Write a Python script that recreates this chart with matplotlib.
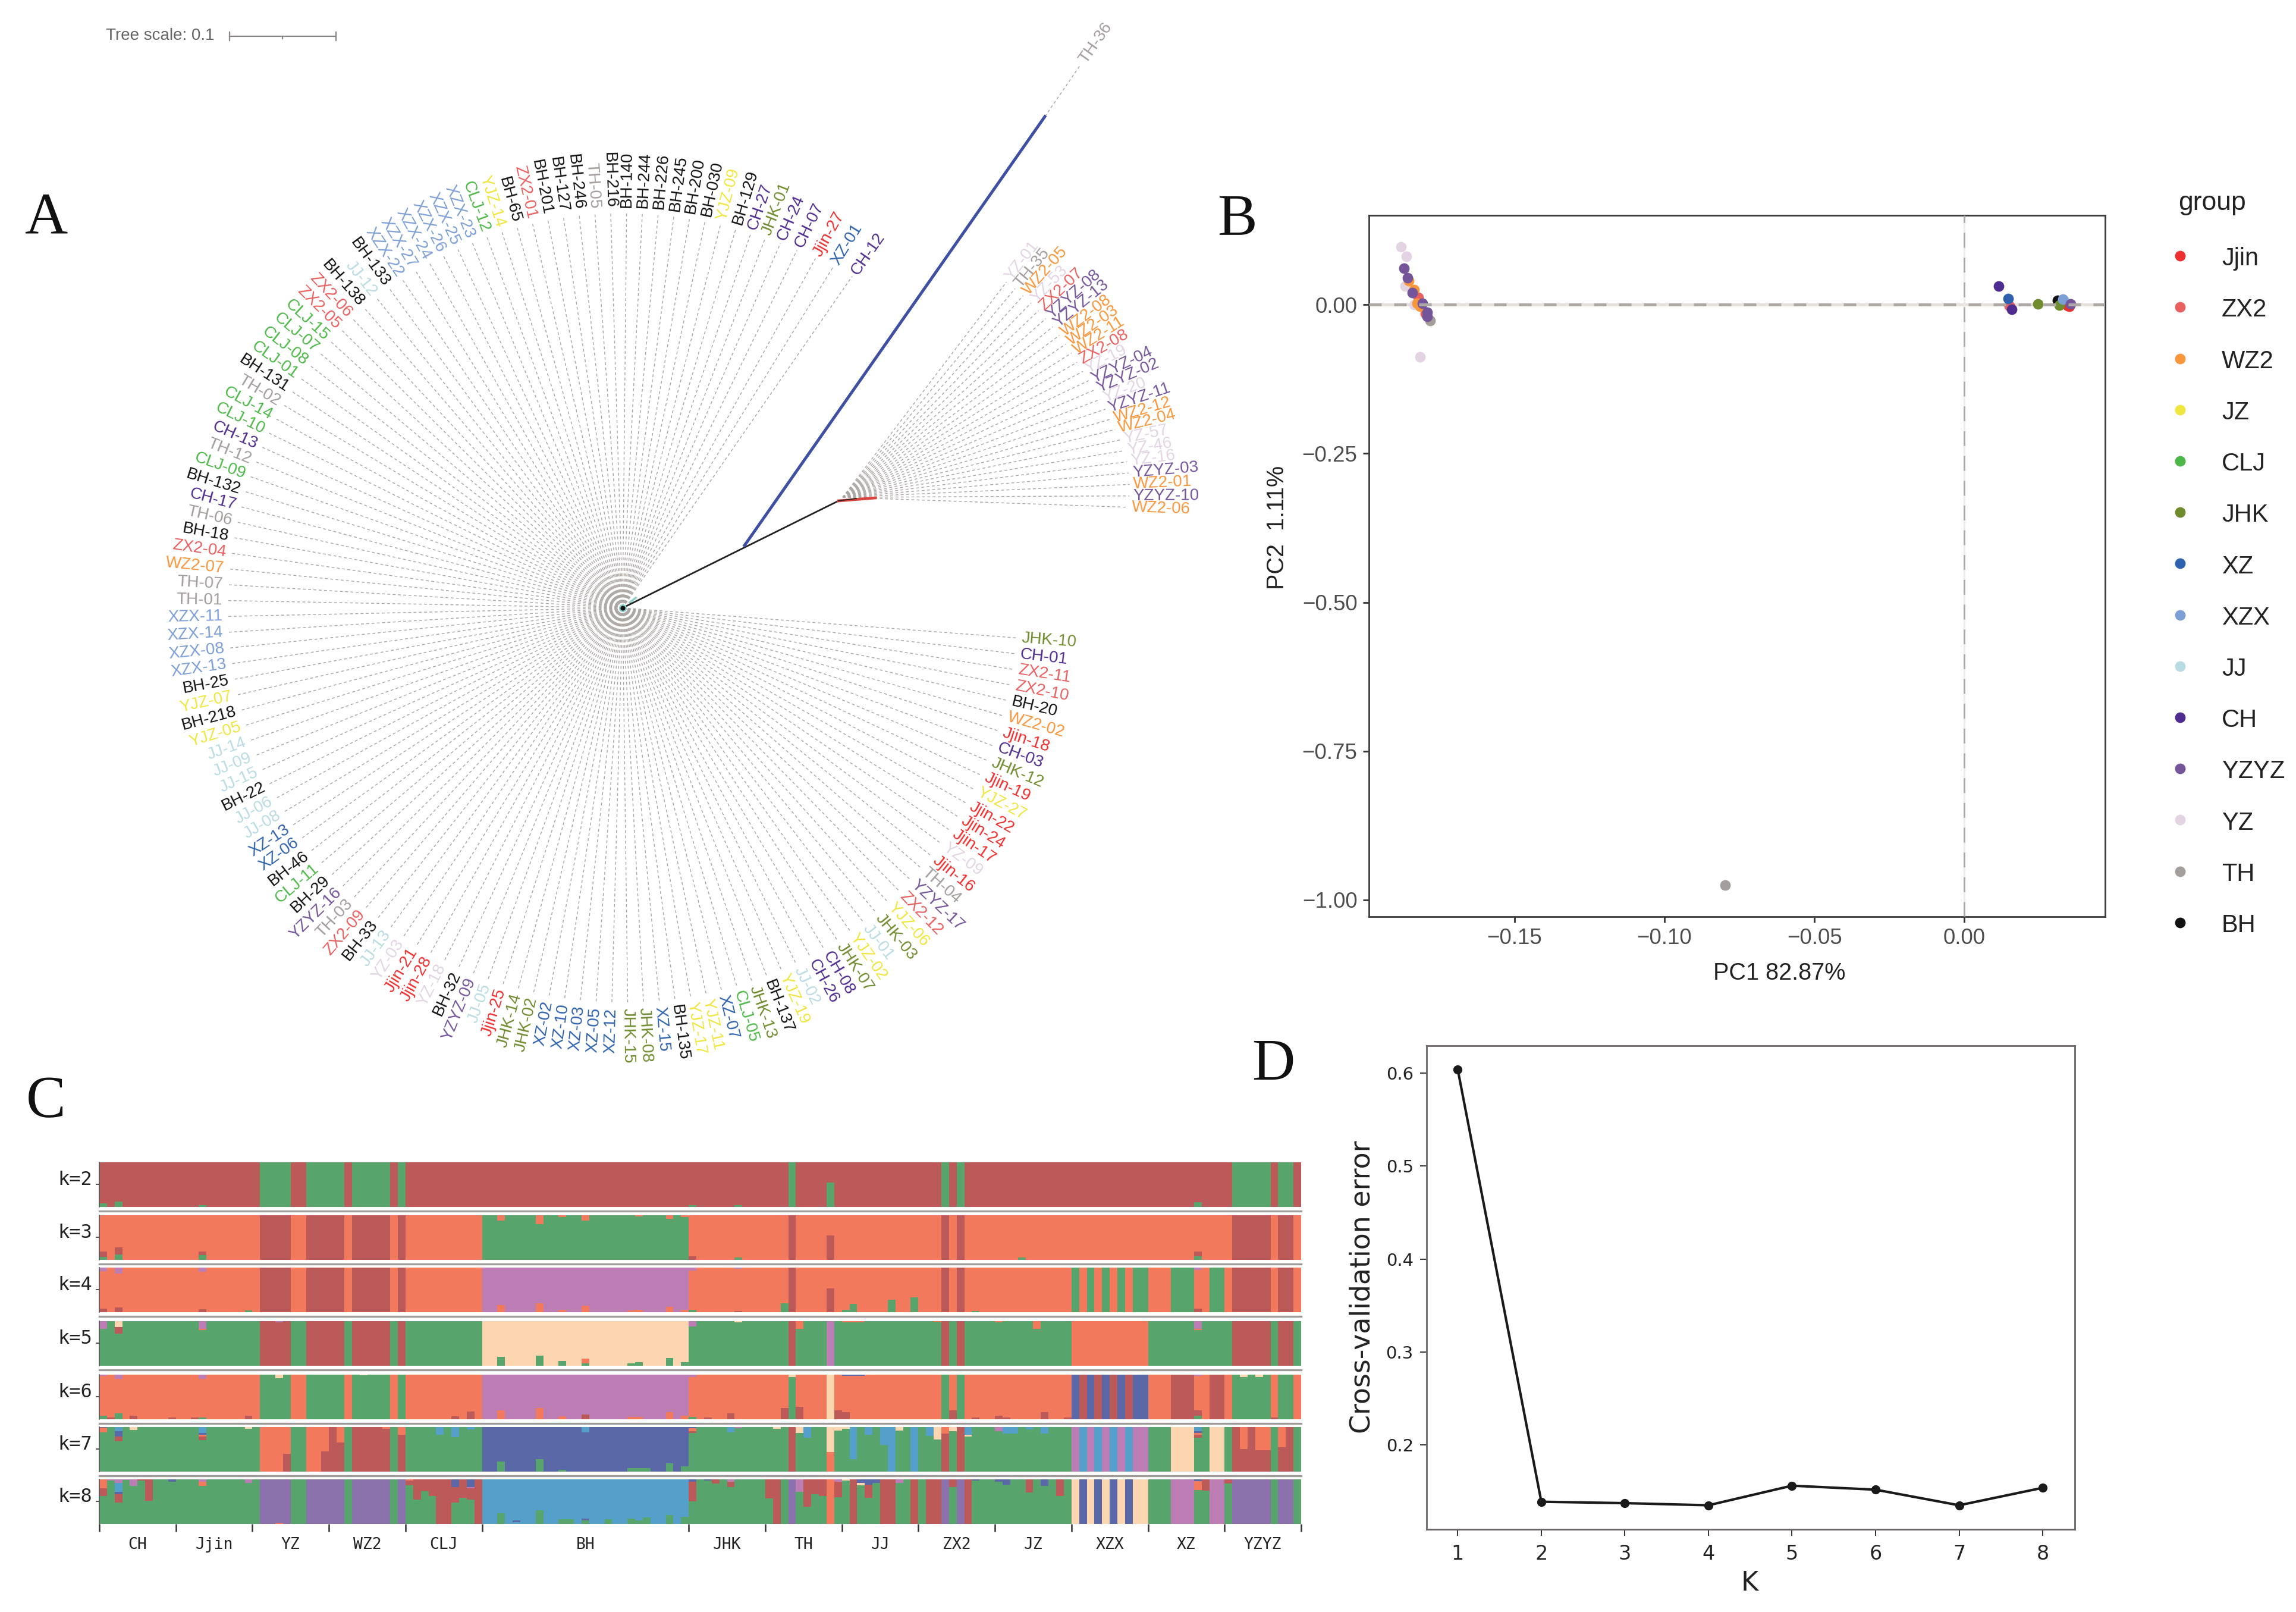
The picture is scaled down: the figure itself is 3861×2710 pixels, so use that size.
# -*- coding: utf-8 -*-
import numpy as np
import matplotlib
matplotlib.use('Agg')
from matplotlib import pyplot as plt

W, H = 3862, 2710
plt.rcParams['font.family'] = ['Liberation Sans', 'DejaVu Sans']

# 分组颜色
GROUPS = ['Jjin', 'ZX2', 'WZ2', 'JZ', 'CLJ', 'JHK', 'XZ', 'XZX', 'JJ', 'CH', 'YZYZ', 'YZ', 'TH', 'BH']
GROUP_COLORS = ['#EE2F2F', '#E8605F', '#F8963C', '#EFE63F', '#4DB848', '#6F8C2E', '#2F62AE',
                '#7C9FD6', '#B9DCE2', '#4F2C8F', '#74559A', '#E3D4E4', '#A39D9C', '#111111']

# A: tree tips
FAN1_TIPS = ['CH-12', 'XZ-01', 'Jjin-27', 'CH-07', 'CH-24', 'JHK-01', 'CH-27', 'BH-129', 'YJZ-09', 'BH-030',
             'BH-200', 'BH-245', 'BH-226', 'BH-244', 'BH-140', 'BH-216', 'TH-05', 'BH-246', 'BH-127', 'BH-201',
             'ZX2-01', 'BH-65', 'YJZ-14', 'CLJ-12', 'XZX-23', 'XZX-25', 'XZX-26', 'XZX-24', 'XZX-27', 'XZX-22',
             'BH-133', 'JJ-12', 'BH-138', 'ZX2-06', 'ZX2-05', 'CLJ-15', 'CLJ-07', 'CLJ-08', 'CLJ-01', 'BH-131',
             'TH-02', 'CLJ-14', 'CLJ-10', 'CH-13', 'TH-12', 'CLJ-09', 'BH-132', 'CH-17', 'TH-06', 'BH-18',
             'ZX2-04', 'WZ2-07', 'TH-07', 'TH-01', 'XZX-11', 'XZX-14', 'XZX-08', 'XZX-13', 'BH-25', 'YJZ-07',
             'BH-218', 'YJZ-05', 'JJ-14', 'JJ-09', 'JJ-15', 'BH-22', 'JJ-06', 'JJ-08', 'XZ-13', 'XZ-06',
             'BH-46', 'CLJ-11', 'BH-29', 'YZYZ-16', 'TH-03', 'ZX2-09', 'BH-33', 'JJ-13', 'YZ-03', 'Jjin-21',
             'Jjin-28', 'YZ-18', 'BH-32', 'YZYZ-09', 'JJ-05', 'Jjin-25', 'JHK-14', 'JHK-02', 'XZ-02', 'XZ-10',
             'XZ-03', 'XZ-05', 'XZ-12', 'JHK-15', 'JHK-08', 'XZ-15', 'BH-135', 'YJZ-17', 'YJZ-11', 'XZ-07',
             'CLJ-05', 'JHK-13', 'BH-137', 'YJZ-19', 'JJ-02', 'CH-26', 'CH-08', 'JHK-07', 'YJZ-02', 'JJ-01',
             'JHK-03', 'YJZ-06', 'ZX2-12', 'YZYZ-17', 'TH-04', 'Jjin-16', 'YZ-09', 'Jjin-17', 'Jjin-24', 'Jjin-22',
             'YJZ-27', 'Jjin-19', 'JHK-12', 'CH-03', 'Jjin-18', 'WZ2-02', 'BH-20', 'ZX2-10', 'ZX2-11', 'CH-01',
             'JHK-10']
# the first tips of the fan are spaced wider and reach further than the rest
FAN1_HEAD_ANGLES = [55.3, 58.3, 61.1, 64.0, 66.6, 68.9, 71.1]
FAN1_HEAD_LENGTHS = [678, 674, 671, 669, 668, 667, 667]
FAN1_LENGTH = 667
FAN2_TIPS = ['WZ2-06', 'YZYZ-10', 'WZ2-01', 'YZYZ-03', 'YZ-16', 'YZ-46', 'YZ-57', 'WZ2-04', 'WZ2-12', 'YZYZ-11',
             'YZ-20', 'YZYZ-02', 'YZYZ-04', 'YZ-19', 'ZX2-08', 'WZ2-11', 'WZ2-03', 'WZ2-08', 'YZYZ-13', 'YZYZ-08',
             'ZX2-07', 'YZ-53', 'WZ2-05', 'TH-35', 'YZ-01']
FAN2_LENGTHS = [480, 482, 483, 483, 482, 480, 477, 472, 470, 466, 463, 460, 458,
                456, 455, 455, 455, 455, 455, 455, 455, 455, 455, 455, 455]

# B: PCA, (PC1, PC2) for each group
PC1 = {
    'BH': [0.0311, 0.0315, 0.0320],
    'JZ': [0.0330, 0.0325],
    'CLJ': [0.0325, 0.0335],
    'JJ': [0.0335, 0.0330],
    'Jjin': [0.0351, 0.0345, 0.0150],
    'ZX2': [0.0150, -0.1821, -0.1798],
    'JHK': [0.0245, 0.0318],
    'CH': [0.0115, 0.0158],
    'XZ': [0.0146],
    'XZX': [0.0329],
    'YZ': [-0.1878, -0.1861, -0.1865, -0.1815, -0.1835],
    'WZ2': [-0.1854, -0.1835, -0.1825, -0.1815],
    'TH': [-0.1782, -0.0797],
    'YZYZ': [-0.1868, -0.1857, -0.1841, -0.1808, -0.1792, -0.1792, 0.0355],
}
PC2 = {
    'BH': [0.0075, 0.0060, 0.0040],
    'JZ': [0.0040, 0.0020],
    'CLJ': [0.0010, 0.0030],
    'JJ': [0.0060, 0.0040],
    'Jjin': [-0.0030, -0.0020, -0.0015],
    'ZX2': [-0.0015, 0.0120, -0.0150],
    'JHK': [0.0015, -0.0012],
    'CH': [0.0310, -0.0080],
    'XZ': [0.0102],
    'XZX': [0.0090],
    'YZ': [0.0975, 0.0810, 0.0310, -0.0875, 0.0000],
    'WZ2': [0.0400, 0.0250, 0.0020, -0.0030],
    'TH': [-0.0265, -0.9750],
    'YZYZ': [0.0610, 0.0450, 0.0200, 0.0020, -0.0125, -0.0195, 0.0015],
}
PCA_ORDER = ['BH', 'JZ', 'CLJ', 'JJ', 'Jjin', 'ZX2', 'JHK', 'CH', 'XZ', 'XZX', 'YZ', 'WZ2', 'TH', 'YZYZ']

# C: admixture, one row per k. base clusters as runs, patches as (bar, [(cluster, fraction), ...])
CLUSTER_COLORS = {'r': '#BC5A5A', 'g': '#57A56C', 'o': '#F2795B', 'p': '#BC7DB4',
                  'c': '#FCD6B0', 'b': '#5A68A8', 'l': '#55A0CB', 'v': '#8B72AC'}
GROUP_NAMES = ['CH', 'Jjin', 'YZ', 'WZ2', 'CLJ', 'BH', 'JHK', 'TH', 'JJ', 'ZX2', 'JZ', 'XZX', 'XZ', 'YZYZ']
GROUP_SIZES = [10, 10, 10, 10, 10, 27, 10, 10, 10, 10, 10, 10, 10, 10]

RUNS_K2 = [('r', 21), ('g', 4), ('r', 2), ('g', 5), ('r', 1), ('g', 5), ('r', 1), ('g', 1), ('r', 50), ('g', 1),
           ('r', 19), ('g', 1), ('r', 1), ('g', 1), ('r', 35), ('g', 5), ('r', 1), ('g', 2), ('r', 1)]
BOTTOM_K2 = [(0, [('g', .08)]), (2, [('g', .12)]), (13, [('g', .04)]), (77, [('g', .04)]), (83, [('g', .03)]),
             (95, [('g', .55)]), (143, [('g', .1)])]
TOP_K2 = []

RUNS_K3 = [('o', 21), ('r', 4), ('o', 2), ('r', 5), ('o', 1), ('r', 5), ('o', 1), ('r', 1), ('o', 10), ('g', 27),
           ('o', 13), ('r', 1), ('o', 19), ('r', 1), ('o', 1), ('r', 1), ('o', 35), ('r', 5), ('o', 1), ('r', 2), ('o', 1)]
BOTTOM_K3 = [(0, [('g', .06), ('r', .12)]), (2, [('g', .12), ('r', .15)]), (13, [('g', .1), ('r', .08)]),
             (77, [('r', .08)]), (83, [('g', .05)]), (95, [('r', .54)]), (120, [('g', .05)]),
             (143, [('g', .07), ('r', .11)])]
TOP_K3 = [(52, [('o', .12)]), (57, [('o', .2)]), (60, [('o', .04)]), (63, [('o', .12)]), (70, [('o', .03)]),
          (74, [('o', .08)]), (76, [('o', .04)])]

RUNS_K4 = [('o', 21), ('r', 4), ('o', 2), ('r', 5), ('o', 1), ('r', 5), ('o', 1), ('r', 1), ('o', 10), ('p', 27),
           ('o', 13), ('r', 1), ('o', 19), ('r', 1), ('o', 1), ('r', 1), ('o', 14), ('g', 1), ('o', 1), ('g', 1),
           ('o', 1), ('g', 1), ('o', 1), ('g', 1), ('o', 1), ('g', 2), ('o', 3), ('g', 3), ('o', 2), ('g', 2),
           ('o', 1), ('r', 5), ('o', 1), ('r', 2), ('o', 1)]
BOTTOM_K4 = [(0, [('r', .07)]), (2, [('r', .1)]), (13, [('r', .06)]), (19, [('g', .03)]), (52, [('o', .15)]),
             (57, [('o', .2)]), (60, [('o', .05)]), (63, [('o', .14)]), (69, [('o', .03)]), (70, [('o', .05)]),
             (74, [('o', .12)]), (76, [('o', .05)]), (77, [('g', .05)]), (83, [('r', .02)]), (89, [('g', .2)]),
             (95, [('r', .53)]), (97, [('g', .05)]), (98, [('g', .18)]), (103, [('g', .28)]), (106, [('g', .33)]),
             (114, [('g', .02)]), (143, [('r', .07)])]
TOP_K4 = [(0, [('p', .08)]), (2, [('p', .14)]), (13, [('p', .1)]), (77, [('p', .07)]), (83, [('p', .03)]),
          (143, [('p', .05)])]

RUNS_K5 = [('g', 21), ('r', 4), ('g', 2), ('r', 5), ('g', 1), ('r', 5), ('g', 1), ('r', 1), ('g', 10), ('c', 27),
           ('g', 13), ('r', 1), ('g', 4), ('p', 1), ('g', 14), ('r', 1), ('g', 1), ('r', 1), ('g', 14), ('o', 10),
           ('g', 11), ('r', 5), ('g', 1), ('r', 2), ('g', 1)]
BOTTOM_K5 = [(52, [('g', .2)]), (57, [('g', .22)]), (60, [('g', .1)]), (63, [('g', .05), ('o', .1)]),
             (69, [('g', .05)]), (70, [('g', .08)]), (74, [('g', .17)]), (76, [('g', .07)])]
TOP_K5 = [(0, [('p', .17)]), (2, [('c', .13), ('r', .15)]), (13, [('p', .17), ('o', .03)]), (23, [('p', .03)]),
          (77, [('p', .12)]), (83, [('c', .03)]), (91, [('o', .18)]), (97, [('o', .03)]), (98, [('o', .03)]),
          (99, [('o', .03)]), (109, [('o', .02)]), (117, [('o', .03)]), (122, [('o', .18)]),
          (143, [('p', .17), ('o', .03)])]

RUNS_K6 = [('o', 21), ('g', 4), ('o', 2), ('g', 5), ('o', 1), ('g', 5), ('o', 1), ('g', 1), ('o', 10), ('p', 27),
           ('o', 13), ('g', 1), ('o', 4), ('c', 1), ('o', 14), ('g', 1), ('o', 1), ('g', 1), ('o', 14), ('b', 1),
           ('r', 1), ('b', 1), ('r', 1), ('b', 1), ('r', 1), ('b', 1), ('r', 1), ('b', 2), ('o', 3), ('r', 3),
           ('o', 2), ('r', 2), ('o', 1), ('g', 5), ('o', 1), ('g', 2), ('o', 1)]
BOTTOM_K6 = [(0, [('g', .08)]), (1, [('r', .04)]), (2, [('g', .13)]), (4, [('r', .08)]), (9, [('r', .03)]),
             (12, [('r', .03)]), (13, [('g', .04)]), (19, [('r', .08)]), (46, [('r', .06)]), (48, [('r', .17)]),
             (52, [('o', .2)]), (57, [('o', .25)]), (60, [('o', .06)]), (63, [('r', .1)]), (69, [('o', .05)]),
             (70, [('o', .05)]), (74, [('o', .15)]), (76, [('o', .08)]), (77, [('g', .05)]), (79, [('r', .03)]),
             (82, [('r', .13)]), (89, [('r', .25)]), (91, [('r', .27)]), (96, [('r', .2)]), (97, [('r', .15)]),
             (111, [('r', .2)]), (114, [('r', .03)]), (117, [('r', .08)]), (118, [('r', .04)]), (123, [('r', .16)]),
             (126, [('r', .03)]), (143, [('g', .07), ('r', .13)]), (153, [('r', .03)])]
TOP_K6 = [(0, [('p', .03)]), (2, [('p', .1)]), (13, [('p', .1)]), (23, [('c', .08)]), (34, [('c', .02)]),
          (77, [('p', .06)]), (90, [('c', .05)]), (97, [('b', .03)]), (98, [('b', .03)]), (99, [('b', .03)]),
          (143, [('p', .03)]), (149, [('c', .05)]), (151, [('c', .05)])]

RUNS_K7 = [('g', 21), ('o', 4), ('g', 2), ('o', 3), ('r', 1), ('o', 1), ('g', 1), ('r', 5), ('g', 1), ('r', 1),
           ('g', 10), ('b', 27), ('g', 13), ('r', 1), ('g', 4), ('c', 1), ('g', 14), ('r', 1), ('g', 1), ('r', 1),
           ('g', 14), ('p', 1), ('l', 1), ('p', 1), ('l', 1), ('p', 1), ('l', 1), ('p', 1), ('l', 1), ('p', 2),
           ('g', 3), ('c', 3), ('g', 2), ('c', 2), ('g', 1), ('r', 5), ('g', 1), ('r', 2), ('g', 1)]
BOTTOM_K7 = [(24, [('r', .4)]), (29, [('r', .45)]), (31, [('r', .65)]), (52, [('g', .22)]), (57, [('g', .27)]),
             (60, [('g', .03)]), (69, [('g', .08)]), (70, [('g', .08)]), (71, [('g', .08)]), (74, [('g', .18)]),
             (76, [('g', .12)]), (95, [('o', .43)])]
TOP_K7 = [(0, [('b', .02), ('o', .1)]), (2, [('l', .1), ('b', .12), ('r', .1)]), (4, [('c', .07)]),
          (13, [('l', .13), ('b', .05), ('o', .03), ('r', .08)]), (19, [('c', .04)]), (37, [('o', .04)]),
          (39, [('o', .17)]), (44, [('l', .17)]), (46, [('l', .23)]), (48, [('l', .06)]), (63, [('l', .12)]),
          (77, [('b', .03), ('o', .07), ('r', .04)]), (82, [('l', .12)]), (83, [('p', .03)]), (88, [('c', .04)]),
          (91, [('c', .13)]), (92, [('l', .24)]), (96, [('c', .08)]), (97, [('c', .04)]), (98, [('l', .72)]),
          (100, [('l', .18)]), (102, [('l', .4)]), (103, [('l', 1.0)]), (104, [('c', .08)]), (106, [('l', 1.0)]),
          (108, [('l', .2)]), (109, [('c', .28)]), (110, [('o', .15)]), (111, [('c', .1)]),
          (113, [('l', .17), ('c', .05)]), (117, [('p', .1)]), (118, [('l', .15)]), (119, [('l', .15)]),
          (121, [('l', .06)]), (123, [('l', .15)]), (143, [('l', .1), ('b', .03), ('o', .05), ('r', .06)]),
          (149, [('o', .5)]), (151, [('o', .52)]), (152, [('o', .52)]), (154, [('o', .45)])]

RUNS_K8 = [('g', 21), ('v', 4), ('g', 2), ('v', 5), ('g', 1), ('v', 5), ('g', 1), ('v', 1), ('g', 4), ('r', 2),
           ('g', 3), ('r', 1), ('l', 27), ('g', 11), ('r', 1), ('g', 1), ('v', 1), ('g', 4), ('o', 1), ('g', 2),
           ('r', 1), ('g', 3), ('r', 2), ('g', 2), ('r', 1), ('g', 1), ('r', 2), ('v', 1), ('g', 1), ('v', 1),
           ('r', 1), ('g', 13), ('c', 1), ('b', 1), ('c', 1), ('b', 1), ('c', 1), ('b', 1), ('c', 1), ('b', 1),
           ('c', 2), ('g', 3), ('p', 3), ('g', 2), ('p', 2), ('g', 1), ('v', 5), ('g', 1), ('v', 2), ('g', 1)]
BOTTOM_K8 = [(23, [('o', .02)]), (52, [('g', .24)]), (54, [('l', .03), ('b', .04)]), (57, [('g', .3)]),
             (60, [('g', .1)]), (61, [('g', .1)]), (63, [('g', .08), ('b', .03)]), (66, [('g', .1)]), (69, [('g', .12)]),
             (70, [('g', .07)]), (71, [('g', .14)]), (74, [('g', .2)]), (76, [('g', .15)])]
TOP_K8 = [(0, [('o', .2), ('r', .17)]), (1, [('p', .03)]), (2, [('p', .08), ('l', .2), ('b', .05), ('r', .2)]),
          (3, [('p', .02)]), (4, [('p', .15)]), (5, [('r', .03)]), (6, [('r', .48)]), (9, [('b', .05)]),
          (13, [('p', .05), ('o', .1)]), (19, [('p', .08)]), (40, [('o', .03), ('r', .1)]), (41, [('r', .45)]),
          (42, [('r', .27)]), (43, [('r', .37)]), (46, [('b', .17), ('r', .35)]), (47, [('r', .42)]),
          (48, [('b', .17), ('p', .03), ('r', .25)]), (77, [('b', .05), ('r', .45)]), (79, [('b', .03)]),
          (80, [('r', .1)]), (82, [('p', .05), ('r', .13)]), (87, [('r', .43)]), (91, [('p', .28)]),
          (92, [('r', .62)]), (93, [('r', .33)]), (94, [('r', .38)]), (96, [('p', .05), ('r', .35)]), (97, [('c', .03)]),
          (99, [('b', .08), ('c', .06)]), (100, [('b', .12), ('r', .3)]), (101, [('b', .08)]), (102, [('r', .85)]),
          (104, [('p', .08)]), (111, [('r', .17)]), (114, [('b', .03)]), (117, [('b', .05)]), (118, [('b', .12)]),
          (121, [('r', .3)]), (123, [('b', .15)]), (125, [('r', .37)]), (143, [('b', .04), ('o', .2)]),
          (144, [('r', .25)]), (147, [('r', .1)])]

K_ROWS = [('k=2', RUNS_K2, BOTTOM_K2, TOP_K2), ('k=3', RUNS_K3, BOTTOM_K3, TOP_K3),
          ('k=4', RUNS_K4, BOTTOM_K4, TOP_K4), ('k=5', RUNS_K5, BOTTOM_K5, TOP_K5),
          ('k=6', RUNS_K6, BOTTOM_K6, TOP_K6), ('k=7', RUNS_K7, BOTTOM_K7, TOP_K7),
          ('k=8', RUNS_K8, BOTTOM_K8, TOP_K8)]

# D: cross-validation error
K_VALUES = [1, 2, 3, 4, 5, 6, 7, 8]
CV_ERROR = [0.604, 0.1385, 0.137, 0.1347, 0.1558, 0.1515, 0.1347, 0.1535]

color_of = dict(zip(GROUPS, GROUP_COLORS))
color_of['YJZ'] = color_of['JZ']


def add_axes_px(fig, left, top, right, bottom):
    return fig.add_axes([left / W, 1 - bottom / H, (right - left) / W, (bottom - top) / H])


def fig_text(fig, x, y, s, **kw):
    return fig.text(x / W, 1 - y / H, s, **kw)


def tip_label(ax, x, y, ang, name, gap=6):
    # 文字沿半径方向, 左半圆文字结束于末端
    ang = ang % 360
    rad = np.radians(ang)
    tx, ty = x + gap * np.cos(rad), y + gap * np.sin(rad)
    if 90 < ang < 270:
        rot, ha = ang - 180, 'right'
    else:
        rot, ha = (ang if ang < 90 else ang - 360), 'left'
    ax.text(tx, ty, name, rotation=rot, rotation_mode='anchor', ha=ha, va='center',
            fontsize=20, color=color_of[name.split('-')[0]])


def draw_tree(fig):
    root_x, root_y = 1047, 1022
    ax = add_axes_px(fig, 0, 0, W, H)
    ax.set_xlim(-root_x, W - root_x)
    ax.set_ylim(root_y - H, root_y)
    ax.axis('off')
    dash = dict(color='#ACA7A5', lw=1.05, ls=(0, (3.3, 2.8)), dash_capstyle='butt', zorder=1)

    start, step = 57.3, 2.295
    n_head = len(FAN1_HEAD_ANGLES)
    for i, name in enumerate(FAN1_TIPS):
        if i < n_head:
            ang, length = FAN1_HEAD_ANGLES[i], FAN1_HEAD_LENGTHS[i]
        else:
            ang, length = start + i * step, FAN1_LENGTH
        x = length * np.cos(np.radians(ang))
        y = length * np.sin(np.radians(ang))
        ax.plot([0, x], [0, y], **dash)
        tip_label(ax, x, y, ang, name)

    # 第二个分支
    node = (1410 - root_x, root_y - 842)
    fan_origin = (1417 - root_x, root_y - 836)
    split = (1252 - root_x, root_y - 917)
    for i, name in enumerate(FAN2_TIPS):
        ang = -2 + i * 2.28
        x = fan_origin[0] + FAN2_LENGTHS[i] * np.cos(np.radians(ang))
        y = fan_origin[1] + FAN2_LENGTHS[i] * np.sin(np.radians(ang))
        ax.plot([fan_origin[0], x], [fan_origin[1], y], **dash)
        tip_label(ax, x, y, ang, name)

    ax.plot([0, node[0]], [0, node[1]], color='#222222', lw=2.0, zorder=3)
    ax.plot([node[0], node[0] + 62], [node[1], node[1] + 5], color='#D9443F', lw=3.4, zorder=3)
    ax.plot([node[0], node[0] + 30], [node[1], node[1] + 4], color='#222222', lw=1.2, zorder=4)

    # TH-36
    far = (1757 - root_x, root_y - 196)
    tip = (1817 - root_x, root_y - 109)
    ax.plot([split[0], far[0]], [split[1], far[1]], color='#3F4FA3', lw=3.6, zorder=3)
    ax.plot([far[0], tip[0]], [far[1], tip[1]], **dash)
    tip_label(ax, tip[0], tip[1], 55, 'TH-36')

    ax.plot([12, 22], [9, 17], color='#8FCFC8', lw=2.5, zorder=2)
    ax.scatter([0], [0], s=90, color='#8FCFC8', lw=0, zorder=3)
    ax.scatter([0], [0], s=35, color='#111111', lw=0, zorder=4)

    # tree scale
    y_bar = root_y - 61
    x0, x1 = 386 - root_x, 565 - root_x
    bar = dict(color='#8A8686', lw=1.6)
    ax.plot([x0, x1], [y_bar, y_bar], **bar)
    ax.plot([x0, x0], [y_bar - 7, y_bar + 7], **bar)
    ax.plot([x1, x1], [y_bar - 7, y_bar + 7], **bar)
    ax.plot([(x0 + x1) / 2] * 2, [y_bar - 4, y_bar], **bar)
    fig_text(fig, 178, 60, 'Tree scale: 0.1', fontsize=20, color='#666666', va='center')


def draw_pca(fig):
    ax = add_axes_px(fig, 2302, 362, 3540, 1541)
    for g in PCA_ORDER:
        ax.scatter(PC1[g], PC2[g], s=165, color=color_of[g], lw=0, zorder=3)
    ax.axhline(0, color='#E6E1DF', lw=3.6, zorder=2)
    ax.axhline(0, color='#ADA8A5', lw=3.6, ls=(0, (4.2, 4.2)), dash_capstyle='butt', zorder=4)
    ax.axvline(0, color='#EFE9E8', lw=2.2, zorder=2)
    ax.axvline(0, color='#ADA8A5', lw=2.0, ls=(0, (9, 6)), dash_capstyle='butt', zorder=4)
    ax.set_xlim(-0.1986, 0.047)
    ax.set_ylim(-1.028, 0.15)
    ax.set_xticks([-0.15, -0.10, -0.05, 0.00])
    ax.set_xticklabels(['\u22120.15', '\u22120.10', '\u22120.05', '0.00'])
    ax.set_yticks([0.00, -0.25, -0.50, -0.75, -1.00])
    ax.set_yticklabels(['0.00', '\u22120.25', '\u22120.50', '\u22120.75', '\u22121.00'])
    ax.tick_params(labelsize=26.5, labelcolor='#4D4D4D', color='#333333', length=7, width=2, pad=7)
    for s in ax.spines.values():
        s.set_color('#3A3A3A')
        s.set_linewidth(2.0)
    fig_text(fig, 2992, 1636, 'PC1 82.87%', fontsize=28.5, color='#222222', ha='center', va='center')
    fig_text(fig, 2148, 887, 'PC2  1.11%', fontsize=28.5, color='#222222', ha='center', va='center', rotation=90)

    # 图例
    fig_text(fig, 3663, 342, 'group', fontsize=32, color='#222222', va='center')
    leg = add_axes_px(fig, 3640, 387, W, 1594)
    leg.set_xlim(3640, W)
    leg.set_ylim(13.5, -0.5)
    leg.axis('off')
    for i, g in enumerate(GROUPS):
        leg.scatter([3666], [i], s=165, color=color_of[g], lw=0)
        leg.text(3736, i + 0.06, g, fontsize=30, color='#222222', va='center')


def draw_row(ax, runs, bottoms, tops):
    left = 0
    for cluster, n in runs:
        ax.bar(left, 1, width=n, align='edge', color=CLUSTER_COLORS[cluster], lw=0)
        left += n
    for bar, parts in bottoms:
        low = 0
        for cluster, frac in parts:
            ax.bar(bar, frac, bottom=low, width=1, align='edge', color=CLUSTER_COLORS[cluster], lw=0)
            low += frac
    for bar, parts in tops:
        high = 1
        for cluster, frac in parts:
            ax.bar(bar, frac, bottom=high - frac, width=1, align='edge', color=CLUSTER_COLORS[cluster], lw=0)
            high -= frac


def draw_admixture(fig):
    n_bars = sum(GROUP_SIZES)
    tops_px = [1954, 2043, 2131, 2221, 2311, 2399, 2487]
    row_h = 74.5
    edges = np.concatenate([[0], np.cumsum(GROUP_SIZES)])
    for i, (label, runs, bottoms, tops) in enumerate(K_ROWS):
        last = i == len(K_ROWS) - 1
        sep = 0 if last else 7.5
        ax = add_axes_px(fig, 167, tops_px[i], 2188, tops_px[i] + row_h + sep)
        draw_row(ax, runs, bottoms, tops)
        ax.set_xlim(0, n_bars)
        ax.set_ylim(-sep / row_h, 1)
        ax.set_yticks([0.5])
        ax.set_yticklabels([])
        ax.text(-0.95, 0.6, label, family='DejaVu Sans Mono', fontsize=23, color='#222222',
                ha='right', va='center')
        ax.tick_params(axis='y', length=4, width=1.2, color='#333333')
        for s in ['top', 'right']:
            ax.spines[s].set_visible(False)
        ax.spines['left'].set_bounds(0, 1)
        ax.spines['left'].set_color('#555555')
        ax.spines['left'].set_linewidth(1.2)
        if last:
            ax.spines['bottom'].set_visible(False)
            ax.set_xticks(edges)
            ax.set_xticklabels([])
            ax.tick_params(axis='x', length=9, width=1.8, color='#333333')
            for j, name in enumerate(GROUP_NAMES):
                ax.text((edges[j] + edges[j + 1]) / 2, -0.47, name, family='DejaVu Sans Mono',
                        fontsize=19, color='#222222', ha='center', va='center')
        else:
            ax.set_xticks([])
            ax.spines['bottom'].set_color('#9E9A98')
            ax.spines['bottom'].set_linewidth(2.4)


def draw_cv(fig):
    ax = add_axes_px(fig, 2399, 1758, 3489, 2571)
    ax.plot(K_VALUES, CV_ERROR, color='#1A1A1A', lw=3.0, marker='o', ms=11, mew=0)
    ax.set_xlim(0.627, 8.384)
    ax.set_ylim(0.1088, 0.6297)
    ax.set_xticks(K_VALUES)
    ax.set_yticks([0.2, 0.3, 0.4, 0.5, 0.6])
    ax.tick_params(axis='x', labelsize=24, length=8, width=1.4, color='#333333', pad=10, labelcolor='#222222')
    ax.tick_params(axis='y', labelsize=21, length=8, width=1.4, color='#333333', pad=8, labelcolor='#222222')
    for tick in ax.get_xticklabels() + ax.get_yticklabels():
        tick.set_family('DejaVu Sans')
    for s in ax.spines.values():
        s.set_color('#6A6666')
        s.set_linewidth(2.0)
    fig_text(fig, 2291, 2164, 'Cross-validation error', family='DejaVu Sans', fontsize=33, color='#222222',
             ha='center', va='center', rotation=90)
    fig_text(fig, 2942, 2661, 'K', family='DejaVu Sans', fontsize=32, color='#222222', ha='center', va='center')


def main():
    fig = plt.figure(figsize=(W / 100, H / 100), dpi=100)
    draw_tree(fig)
    draw_pca(fig)
    draw_admixture(fig)
    draw_cv(fig)
    letters = [('A', 42, 393), ('B', 2047, 394), ('C', 44, 1877), ('D', 2105, 1815)]
    for s, x, y in letters:
        fig_text(fig, x, y, s, family='Liberation Serif', fontsize=72, color='#111111', va='baseline')
    fig.savefig('out.png', dpi=100)


if __name__ == '__main__':
    main()
